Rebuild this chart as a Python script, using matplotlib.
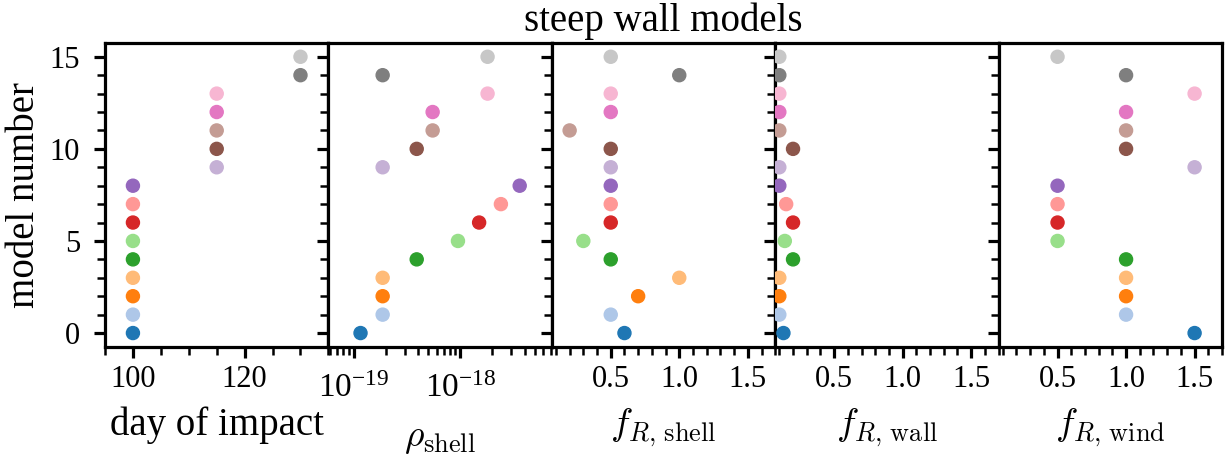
import matplotlib
matplotlib.use("Agg")
import matplotlib.pyplot as plt
from matplotlib.ticker import MultipleLocator, AutoMinorLocator, FuncFormatter, LogLocator
import numpy as np

plt.rcParams["font.family"] = ["Liberation Serif", "DejaVu Serif"]
plt.rcParams["mathtext.fontset"] = "cm"

# model parameters, one entry per model (0..15)
model_number = list(range(16))
day_of_impact = [100, 100, 100, 100, 100, 100, 100, 100, 100,
                 115, 115, 115, 115, 115, 130, 130]
rho_shell = [1.16e-19, 1.87e-19, 1.87e-19, 1.87e-19, 3.9e-19, 9.5e-19,
             1.5e-18, 2.4e-18, 3.6e-18, 1.87e-19, 3.9e-19, 5.5e-19,
             5.5e-19, 1.8e-18, 1.87e-19, 1.8e-18]
f_R_shell = [0.6, 0.5, 0.7, 1.0, 0.5, 0.3, 0.5, 0.5, 0.5,
             0.5, 0.5, 0.2, 0.5, 0.5, 1.0, 0.5]
f_R_wall = [0.13, 0.1, 0.1, 0.1, 0.2, 0.14, 0.2, 0.15, 0.1,
            0.1, 0.2, 0.1, 0.1, 0.1, 0.1, 0.1]
f_R_wind = [1.5, 1.0, 1.0, 1.0, 1.0, 0.5, 0.5, 0.5, 0.5,
            1.5, 1.0, 1.0, 1.0, 1.5, 1.0, 0.5]

columns = [day_of_impact, rho_shell, f_R_shell, f_R_wall, f_R_wind]
xlabels = ["day of impact", r"$\rho_\mathrm{shell}$", r"$f_{R,\,\mathrm{shell}}$",
           r"$f_{R,\,\mathrm{wall}}$", r"$f_{R,\,\mathrm{wind}}$"]

colors = plt.get_cmap("tab20")(np.arange(16))

fig, axes = plt.subplots(1, 5, figsize=(12.31, 4.57), dpi=100, sharey=True)
fig.subplots_adjust(left=0.0853, right=0.9927, top=0.906, bottom=0.241, wspace=0)

for i, (ax, vals, lab) in enumerate(zip(axes, columns, xlabels)):
    ax.scatter(vals, model_number, c=colors, s=88, zorder=3)
    ax.set_xlabel(lab, fontsize=28 if i == 0 else 27, labelpad=9)
    for sp in ax.spines.values():
        sp.set_linewidth(2.3)
    ax.tick_params(which="major", length=8, width=2.3, labelsize=22, pad=5)
    ax.tick_params(which="minor", length=5.5, width=1.8)
    ax.tick_params(axis="y", which="major", pad=10)
    ax.yaxis.set_major_locator(MultipleLocator(5))
    ax.yaxis.set_minor_locator(AutoMinorLocator(5))

axes[0].set_xlim(95, 135)
axes[0].xaxis.set_major_locator(MultipleLocator(20))
axes[0].xaxis.set_minor_locator(AutoMinorLocator(4))

axes[1].set_xscale("log")
axes[1].set_xlim(min(rho_shell) / 2, max(rho_shell) * 2)
axes[1].xaxis.set_major_locator(LogLocator(base=10))
axes[1].xaxis.set_minor_locator(LogLocator(base=10, subs=np.arange(2, 10)))
axes[1].xaxis.set_major_formatter(
    FuncFormatter(lambda v, p: r"$\mathregular{10^{%d}}$" % round(np.log10(v))))
axes[1].tick_params(axis="x", which="major", labelsize=24, pad=11)
axes[1].xaxis.labelpad = 13

for ax in axes[2:]:
    ax.set_xlim(0.07, 1.7)
    ax.xaxis.set_major_locator(MultipleLocator(0.5))
    ax.xaxis.set_minor_locator(AutoMinorLocator(5))
    ax.xaxis.set_major_formatter(FuncFormatter(lambda v, p: "%.1f" % v))

axes[0].set_ylabel("model number", fontsize=28, labelpad=5)

fig.text(0.539, 0.932, "steep wall models", fontsize=28, ha="center", va="baseline")

fig.savefig("out.png", dpi=100)
